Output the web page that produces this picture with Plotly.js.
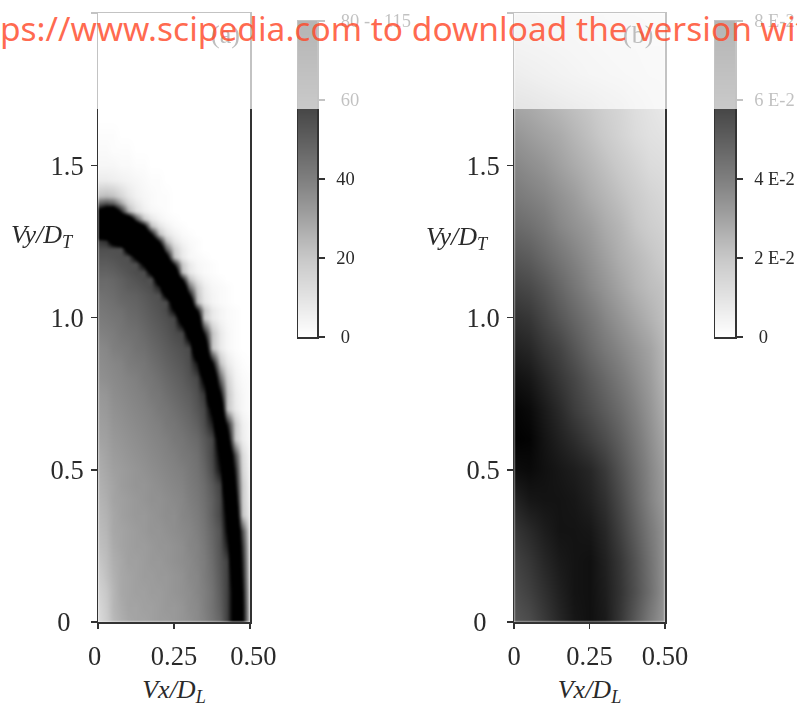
<!DOCTYPE html>
<html>
<head>
<meta charset="utf-8">
<script src="https://cdn.plot.ly/plotly-3.0.1.min.js"></script>
<style>
html,body{margin:0;padding:0;background:#fff;overflow:hidden}
#chart{width:797px;height:707px}
.subplot.xy .heatmaplayer image,.subplot.x2y2 .heatmaplayer image{filter:blur(0.9px)}
.cartesianlayer text,.infolayer .annotation:not(:last-child) text{filter:blur(0.3px)}
</style>
</head>
<body>
<div id="chart"></div>
<script>
// Panel (a): velocity columns and rows
var xA = [0,0.025,0.05,0.075,0.1,0.125,0.15,0.175,0.2,0.225,0.25,0.275,0.3,0.325,0.35,0.375,0.4,0.425,0.45,0.475,0.5];
var yA = [0,0.05,0.1,0.15,0.2,0.25,0.3,0.35,0.4,0.45,0.5,0.55,0.6,0.65,0.7,0.75,0.8,0.85,0.9,0.95,
  1,1.025,1.05,1.075,1.1,1.125,1.15,1.175,1.2,1.225,1.25,1.275,1.3,1.325,1.35,1.375,1.4,
  1.45,1.5,1.55,1.6,1.65,1.7,2];
var zA = [
[13,18,24,27,29,30,30,31,32,32,33,34,35,37,39,43,48,60,93,85,14],
[14,19,25,28,30,30,31,31,32,33,33,34,36,37,40,44,50,60,93,84,13],
[16,20,25,29,30,31,31,32,32,33,34,35,36,38,40,44,51,60,93,80,12],
[18,22,26,29,30,31,32,32,33,33,34,35,37,38,41,45,52,60,102,75,10],
[20,23,27,29,31,31,32,33,33,34,35,36,37,39,41,46,53,60,115,71,9],
[22,24,28,30,31,32,32,33,34,34,35,36,38,39,42,47,54,71,115,66,8],
[23,25,29,30,31,32,33,34,34,35,36,37,38,40,43,48,54,80,115,57,7],
[24,26,29,31,32,33,33,34,35,36,36,38,39,41,44,50,58,85,115,22,6],
[25,27,30,31,32,33,34,35,35,36,37,38,40,42,45,50,58,95,95,20,5],
[26,28,30,32,33,34,34,35,36,37,38,39,41,43,46,52,60,115,80,20,4],
[27,29,31,32,33,34,35,36,37,38,39,40,42,44,48,56,75,115,71,16,4],
[28,30,32,33,34,35,36,37,38,39,40,42,43,45,50,58,83,115,57,14,3],
[30,31,33,34,35,36,37,38,39,40,42,43,45,47,52,58,95,95,20,7,2],
[31,32,34,35,36,37,38,39,40,42,43,45,47,50,56,71,115,71,20,6,2],
[32,33,35,36,37,38,39,40,42,43,45,47,49,53,58,85,115,22,8,3,1],
[33,34,36,37,38,39,40,42,43,45,47,49,51,55,64,115,80,22,7,3,1],
[35,36,37,38,39,40,42,43,45,47,49,51,54,58,86,115,48,16,5,2,1],
[36,37,38,39,41,42,43,45,47,49,51,53,56,75,115,80,22,8,3,1,0],
[37,38,40,41,42,44,45,47,49,51,53,55,57,115,115,22,8,3,1,0,0],
[39,40,41,43,44,45,47,49,51,53,56,58,95,115,73,22,8,3,1,0,0],
[41,42,43,44,46,47,49,51,53,55,58,97,115,108,20,8,4,2,1,0,0],
[42,43,44,45,47,48,50,52,54,57,80,115,115,75,22,8,4,2,1,0,0],
[43,44,45,47,48,49,51,53,55,56,98,115,115,24,9,4,2,1,0,0,0],
[44,45,46,48,49,50,52,54,55,86,115,115,80,22,8,4,2,1,0,0,0],
[46,46,47,49,51,52,54,56,71,115,115,115,48,18,7,3,2,1,0,0,0],
[47,47,48,50,52,54,56,55,103,115,115,75,24,9,4,2,1,0,0,0,0],
[49,49,50,52,54,56,56,88,115,115,115,24,9,4,2,1,0,0,0,0,0],
[51,51,52,54,55,55,85,115,115,115,71,20,8,3,2,1,0,0,0,0,0],
[53,53,54,55,55,86,115,115,115,95,22,8,3,2,1,0,0,0,0,0,0],
[55,55,55,55,97,115,115,115,115,52,18,7,3,1,0,0,0,0,0,0,0],
[62,66,97,115,115,115,115,115,73,24,9,4,2,1,0,0,0,0,0,0,0],
[105,115,115,115,115,115,115,80,24,10,5,2,1,0,0,0,0,0,0,0,0],
[115,115,115,115,115,115,82,24,10,5,2,1,0,0,0,0,0,0,0,0,0],
[115,115,115,115,115,57,20,9,4,2,1,0,0,0,0,0,0,0,0,0,0],
[85,105,110,68,28,12,6,3,2,1,0,0,0,0,0,0,0,0,0,0,0],
[48,55,50,30,15,8,4,2,1,1,0,0,0,0,0,0,0,0,0,0,0],
[22,24,22,15,9,5,3,2,1,1,0,0,0,0,0,0,0,0,0,0,0],
[7,7,6,5,4,3,2,1,1,0,0,0,0,0,0,0,0,0,0,0,0],
[3,3,3,2,2,1,1,0,0,0,0,0,0,0,0,0,0,0,0,0,0],
[2,2,1,1,1,0,0,0,0,0,0,0,0,0,0,0,0,0,0,0,0],
[1,1,1,0,0,0,0,0,0,0,0,0,0,0,0,0,0,0,0,0,0],
[0,0,0,0,0,0,0,0,0,0,0,0,0,0,0,0,0,0,0,0,0],
[0,0,0,0,0,0,0,0,0,0,0,0,0,0,0,0,0,0,0,0,0],
[0,0,0,0,0,0,0,0,0,0,0,0,0,0,0,0,0,0,0,0,0]
];

// Panel (b): values in units of 1 E-2
var xB = [0,0.05,0.1,0.15,0.2,0.25,0.3,0.35,0.4,0.45,0.5];
var yB = [0,0.1,0.2,0.3,0.4,0.5,0.6,0.7,0.8,0.9,1,1.1,1.2,1.3,1.4,1.5,1.6,1.7,1.8,1.9,2];
var zB = [
[5.3,5.6,6.2,6.8,7.3,7.5,7.2,6.3,5.2,4.1,3.3],
[5.6,6.0,6.5,7.0,7.4,7.5,7.1,6.4,5.5,4.5,3.4],
[5.9,6.3,6.8,7.2,7.4,7.5,7.0,6.3,5.4,4.4,3.4],
[6.3,6.7,7.1,7.4,7.4,7.3,6.8,6.0,5.1,4.2,3.4],
[6.9,7.3,7.4,7.4,7.3,7.0,6.5,5.7,4.8,3.9,3.2],
[7.6,7.7,7.5,7.3,7.1,6.8,6.2,5.4,4.6,3.8,3.1],
[8.0,7.9,7.4,7.0,6.6,6.1,5.6,5.0,4.3,3.6,2.9],
[7.9,7.7,7.2,6.7,6.1,5.6,5.1,4.6,4.0,3.4,2.7],
[7.5,7.3,6.8,6.3,5.8,5.2,4.7,4.2,3.7,3.2,2.5],
[7.0,6.8,6.3,5.9,5.3,4.7,4.2,3.8,3.4,3.0,2.4],
[6.5,6.3,5.8,5.3,4.8,4.3,3.8,3.4,3.0,2.6,2.2],
[5.9,5.7,5.3,4.8,4.3,3.8,3.4,3.0,2.6,2.3,2.1],
[5.3,5.1,4.7,4.3,3.9,3.5,3.1,2.7,2.4,2.1,1.8],
[4.7,4.5,4.2,3.8,3.5,3.2,2.8,2.5,2.1,1.8,1.6],
[4.2,4.0,3.8,3.5,3.2,2.8,2.5,2.2,1.9,1.6,1.4],
[3.8,3.6,3.4,3.1,2.8,2.5,2.2,1.9,1.6,1.3,1.2],
[3.4,3.2,3.0,2.8,2.5,2.2,1.9,1.6,1.3,1.1,1.0],
[2.9,2.8,2.6,2.4,2.2,2.0,1.7,1.5,1.2,1.0,0.8],
[2.2,2.0,1.8,1.6,1.4,1.2,1.1,1.0,0.9,0.8,0.8],
[1.5,1.4,1.3,1.2,1.1,1.0,0.9,0.8,0.8,0.7,0.7],
[1.1,1.1,1.0,1.0,0.9,0.9,0.8,0.8,0.7,0.7,0.6]
];

// Colour keys
var keyX = [0,1];
var keyLevelsA = [0,5,10,15,20,25,30,35,40,45,50,55,60,65,70,75,80];
var keyLevelsB = [0,0.5,1,1.5,2,2.5,3,3.5,4,4.5,5,5.5,6,6.5,7,7.5,8];

// Tick labels
var yTickVals = [0,0.5,1,1.5,2];
var yTickText = ['0\u00a0\u00a0','0.5','1.0','1.5','2.0'];
var xTickVals = [0,0.25,0.5];
var xTickTextA = ['0\u00a0','0.25','\u00a00.50'];
var xTickTextB = ['0','0.25','0.50'];
var keyTickValsA = [0,20,40,60,80];
var keyTickTextA = ['\u00a00','20','40','\u00a060','\u00a080\u00a0-\u00a0\u00a0\u00a0115'];
var keyTickValsB = [0,2,4,6,8];
var keyTickTextB = ['\u00a00','2 E-2','4 E-2','6 E-2','8 E-2'];

var W = 797, H = 707;
function fx(p){return p/W;}
function fy(p){return (H-p)/H;}
var SERIF = '"Liberation Serif","Times New Roman",serif';
var INK = '#333333';
var grayscale = [[0,'#ffffff'],[0.25,'#c8c8c8'],[0.5,'#7f7f7f'],[0.75,'#404040'],[1,'#000000']];

function keyRows(levels){return levels.map(function(v){return [v,v];});}

var common = {type:'heatmap',zsmooth:'best',colorscale:grayscale,showscale:false,hoverinfo:'skip'};
function trace(x,y,z,zmax,xa,ya){
  return Object.assign({},common,{x:x,y:y,z:z,zmin:0,zmax:zmax,xaxis:xa,yaxis:ya});
}
var data = [
  trace(xA,yA,zA,80,'x','y'),
  trace(xB,yB,zB,8,'x2','y2'),
  trace(keyX,keyLevelsA,keyRows(keyLevelsA),80,'x3','y3'),
  trace(keyX,keyLevelsB,keyRows(keyLevelsB),8,'x4','y4')
];

var tickFont = {family:SERIF,size:26.5,color:'#2a2a2a'};
var keyFont = {family:SERIF,size:18.5,color:'#2a2a2a'};
function xAxis(l,r,anchor,text){
  return {domain:[fx(l),fx(r)],range:[0,0.5],anchor:anchor,tickmode:'array',tickvals:xTickVals,ticktext:text,
    ticks:'outside',ticklen:5.5,tickwidth:1.5,tickcolor:INK,showline:true,linecolor:INK,linewidth:1.5,mirror:true,
    showgrid:false,zeroline:false,tickfont:tickFont,ticklabelstandoff:4,
    title:{text:'<i>Vx/D</i><sub><i>L</i></sub>',font:{family:SERIF,size:26,color:'#2a2a2a'},standoff:12}};
}
function yAxis(anchor){
  return {domain:[fy(622),fy(13)],range:[0,2],anchor:anchor,tickmode:'array',tickvals:yTickVals,ticktext:yTickText,
    ticks:'outside',ticklen:5.5,tickwidth:1.5,tickcolor:INK,showline:true,linecolor:INK,linewidth:1.5,mirror:true,
    showgrid:false,zeroline:false,tickfont:tickFont,ticklabelstandoff:2};
}
function keyXAxis(l,r,anchor){
  return {domain:[fx(l),fx(r)],range:[0,1],anchor:anchor,showticklabels:false,ticks:'',showline:true,linecolor:INK,linewidth:1.5,mirror:true,showgrid:false,zeroline:false};
}
function keyYAxis(anchor,maxV,vals,text){
  return {domain:[fy(337),fy(21)],range:[0,maxV],anchor:anchor,side:'right',tickmode:'array',tickvals:vals,ticktext:text,
    ticks:'outside',ticklen:6,tickwidth:1.5,tickcolor:INK,showline:true,linecolor:INK,linewidth:1.5,mirror:true,
    showgrid:false,zeroline:false,tickfont:keyFont,ticklabelstandoff:8};
}
function note(text,px,py,size,color){
  return {text:text,xref:'paper',yref:'paper',x:fx(px),y:fy(py),showarrow:false,xanchor:'center',yanchor:'middle',
    font:{family:SERIF,size:size,color:color}};
}

var layout = {
  width:W,height:H,margin:{l:0,r:0,t:0,b:0},paper_bgcolor:'#ffffff',plot_bgcolor:'#ffffff',showlegend:false,
  xaxis:xAxis(98,250,'y',xTickTextA),yaxis:yAxis('x'),
  xaxis2:xAxis(514,665,'y2',xTickTextB),yaxis2:yAxis('x2'),
  xaxis3:keyXAxis(298,317,'y3'),yaxis3:keyYAxis('x3',80,keyTickValsA,keyTickTextA),
  xaxis4:keyXAxis(715,735,'y4'),yaxis4:keyYAxis('x4',8,keyTickValsB,keyTickTextB),
  shapes:[{type:'rect',xref:'paper',yref:'paper',x0:0,x1:1,y0:fy(109),y1:1,layer:'above',fillcolor:'#ffffff',opacity:0.71,line:{width:0}}],
  annotations:[
    note('<i>Vy/D</i><sub><i>T</i></sub>',42,236,26,'#2a2a2a'),
    note('<i>Vy/D</i><sub><i>T</i></sub>',458,238,26,'#2a2a2a'),
    note('(a)',225,34,26,'#bdbdbd'),
    note('(b)',638,34,26,'#bdbdbd'),
    {text:'https://www.scipedia.com to download the version with',xref:'paper',yref:'paper',x:fx(-47),y:fy(28),showarrow:false,xanchor:'left',yanchor:'middle',
     font:{family:'"Noto Sans",sans-serif',size:33.5,color:'rgba(255,72,40,0.82)'}}
  ]
};
Plotly.newPlot('chart',data,layout,{displayModeBar:false,staticPlot:true});
</script>
</body>
</html>
